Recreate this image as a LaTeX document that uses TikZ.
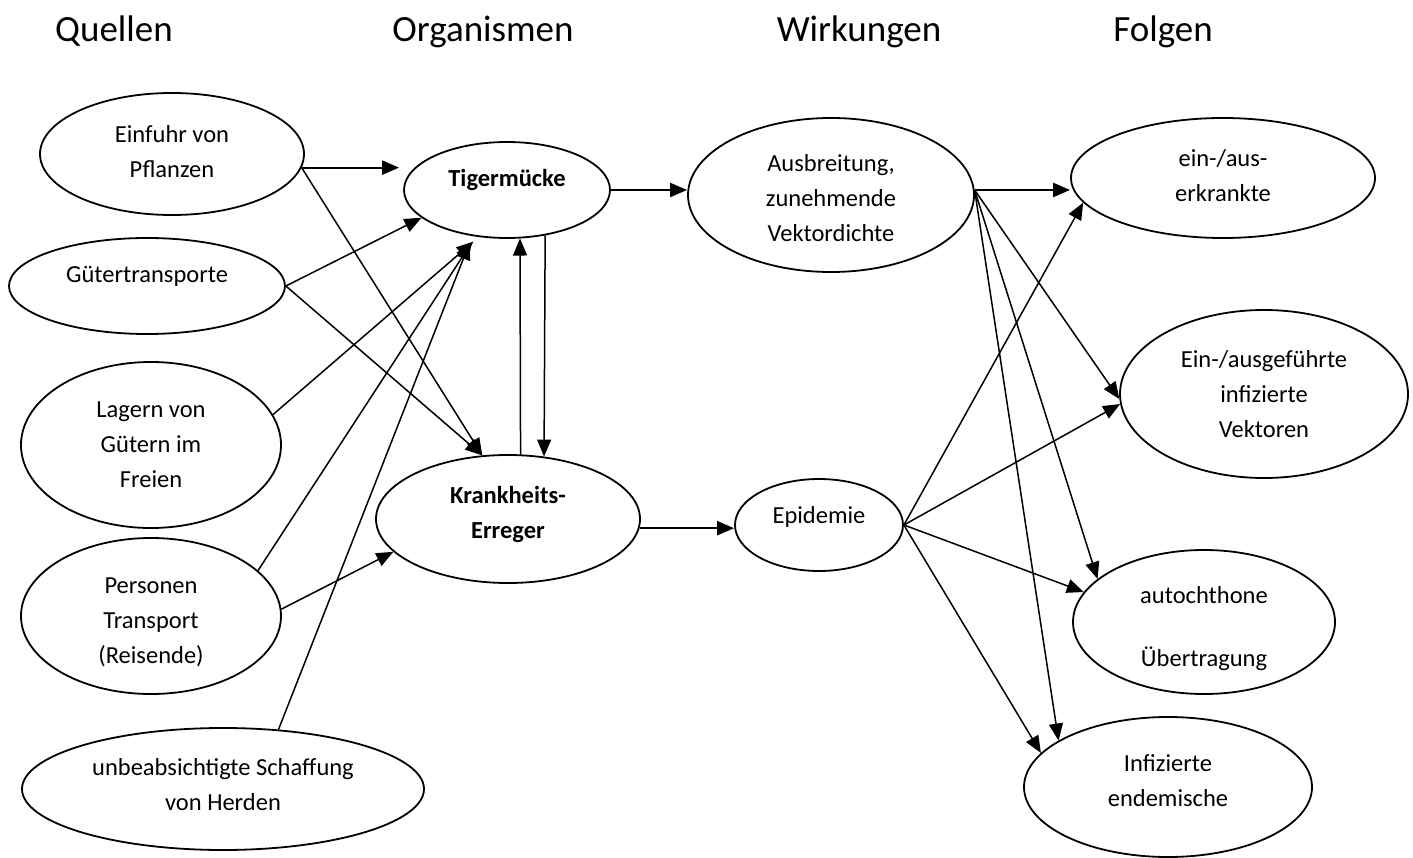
\documentclass[tikz,border=0pt]{standalone}
\usepackage{fontspec}
\setmainfont{Carlito}
\usetikzlibrary{shapes.geometric,arrows.meta}
\begin{document}
\begin{tikzpicture}[x=1pt,y=-1pt,
  ell/.style={ellipse,draw,line width=1.8pt,inner sep=0pt,align=center,
    font=\fontsize{24.5}{35}\selectfont},
  bold/.style={font=\fontsize{24.5}{35}\selectfont\bfseries},
  head/.style={anchor=base,font=\fontsize{37}{44}\selectfont},
  arr/.style={-{Triangle[length=17pt,width=14pt]},line width=1.5pt},
  harr/.style={arr,line width=2.2pt}]
\fill[white] (0,0) rectangle (1413,858);
\useasboundingbox (0,0) rectangle (1413,858);

% headings
\node[head] (hq) at (114,42) {Quellen};
\node[head] (ho) at (483,42) {Organismen};
\node[head] (hw) at (859,42) {Wirkungen};
\node[head] (hf) at (1163,42) {Folgen};

% sources
\node[ell,minimum width=264pt,minimum height=122pt,text height=54pt,text depth=6pt] (ein) at (172,154) {Einfuhr von\\Pflanzen};
\node[ell,minimum width=276pt,minimum height=96pt,text height=18pt,text depth=24pt] (gut) at (147,286) {Gütertransporte};
\node[ell,minimum width=260pt,minimum height=166pt,text height=90pt,text depth=6pt] (lag) at (151,445) {Lagern von\\Gütern im\\Freien};
\node[ell,minimum width=260pt,minimum height=156pt,text height=100pt,text depth=6pt] (per) at (151,616) {Personen\\Transport\\(Reisende)};
\node[ell,minimum width=402pt,minimum height=122pt,text height=48pt,text depth=6pt] (unb) at (223,789) {unbeabsichtigte Schaffung\\von Herden};

% organisms
\node[ell,bold,minimum width=206pt,minimum height=96pt,text height=18pt,text depth=24pt] (tig) at (507,190) {Tigermücke};
\node[ell,bold,minimum width=264pt,minimum height=128pt,text height=44pt,text depth=6pt] (kra) at (508,519) {Krankheits-\\Erreger};

% effects
\node[ell,minimum width=286pt,minimum height=154pt,text height=100pt,text depth=6pt] (aus) at (831,195) {Ausbreitung,\\zunehmende\\Vektordichte};
\node[ell,minimum width=168pt,minimum height=92pt,text height=18pt,text depth=22pt] (epi) at (819,525) {Epidemie};

% consequences
\node[ell,minimum width=304pt,minimum height=120pt,text height=54pt,text depth=6pt] (eia) at (1223,178) {ein-/aus-\\erkrankte};
\node[ell,minimum width=288pt,minimum height=168pt,text height=92pt,text depth=6pt] (eig) at (1264,394) {Ein-/ausgeführte\\infizierte\\Vektoren};
\node[ell,minimum width=262pt,minimum height=144pt,text height=94pt,text depth=6pt] (aut) at (1204,622) {autochthone\\[28pt]Übertragung};
\node[ell,minimum width=288pt,minimum height=140pt,text height=44pt,text depth=6pt] (inf) at (1168,787) {Infizierte\\endemische};

% connectors: sources -> organisms
\draw[harr,shorten >=4pt] (ein.-6) -- (ein.-6 -| tig.west);
\draw[arr] (ein.-6) -- (kra.112);
\draw[arr] (gut.east) -- (tig.-162);
\draw[arr] (gut.east) -- (kra.112);
\draw[arr,shorten >=7pt] (lag.14) -- (tig.-121);
\draw[arr,shorten >=7pt] (per.23) -- (tig.-124);
\draw[arr,shorten >=7pt] (unb.47) -- (tig.-127);
\draw[arr] (per.3) -- (kra.-164);

% organisms
\draw[arr] (kra.79) -- (tig.-75);
\draw[arr] (tig.-50) -- (kra.60);

% organisms -> effects
\draw[harr] (tig.east) -- (tig.east -| aus.west);
\draw[harr] (kra.-4) -- (kra.-4 -| epi.west);

% effects -> consequences
\draw[harr] (aus.2) -- (aus.2 -| eia.west);
\draw[arr] (aus.2) -- (eig.182);
\draw[arr] (aus.2) -- (aut.158);
\draw[arr] (aus.2) -- (inf.157);
\draw[arr] (epi.east) -- (eia.190);
\draw[arr] (epi.east) -- (eig.184);
\draw[arr] (epi.east) -- (aut.166);
\draw[arr] (epi.east) -- (inf.165);
\end{tikzpicture}
\end{document}
